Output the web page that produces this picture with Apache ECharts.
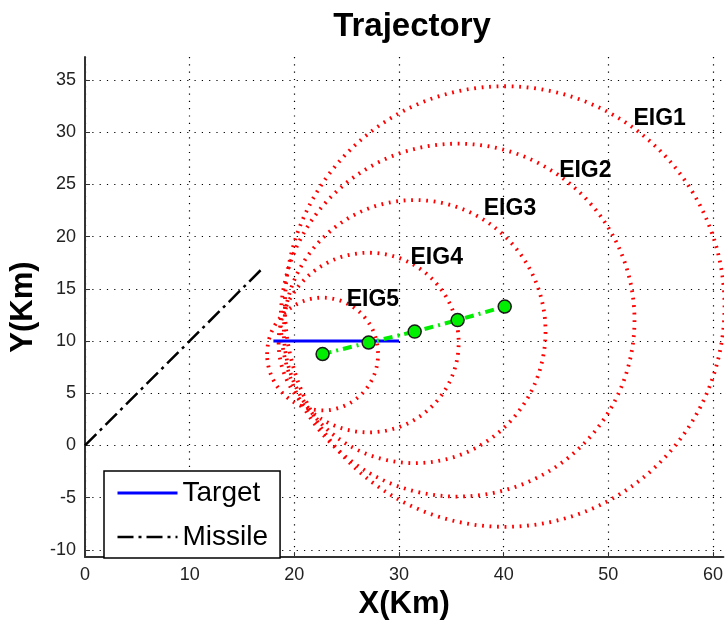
<!DOCTYPE html>
<html>
<head>
<meta charset="utf-8">
<script src="https://cdn.jsdelivr.net/npm/echarts@6/dist/echarts.min.js"></script>
<style>
html,body{margin:0;padding:0;background:#fff;}
#chart{width:726px;height:625px;}
</style>
</head>
<body>
<div id="chart"></div>
<script>
// ---- data ----
const xTicks = [0, 10, 20, 30, 40, 50, 60];
const yTicks = [-10, -5, 0, 5, 10, 15, 20, 25, 30, 35];

const targetX = [18.0, 30.0];
const targetY = [10.0, 10.0];

const missileX = [0, 17.0];
const missileY = [0, 17.0];

const estX = [22.7, 27.1, 31.5, 35.6, 40.1];
const estY = [8.75, 9.85, 10.9, 12.0, 13.3];

const eigNames = ['EIG5', 'EIG4', 'EIG3', 'EIG2', 'EIG1'];
const eigRadiusX = [5.3, 8.6, 12.5, 16.9, 21.0];
const eigRadiusY = [5.4, 8.6, 12.6, 16.9, 21.1];
const eigLabelX = [25.0, 31.1, 38.1, 45.3, 52.4];
const eigLabelY = [14.0, 18.0, 22.7, 26.3, 31.3];

// ---- chart ----
const chart = echarts.init(document.getElementById('chart'), null, {renderer: 'canvas'});
const FONT = '"Liberation Sans", Arial, Helvetica, sans-serif';

const ellipseData = estX.map((x, i) => [x, estY[i], eigRadiusX[i], eigRadiusY[i]]);

const option = {
  animation: false,
  backgroundColor: '#fff',
  textStyle: {fontFamily: FONT},
  title: {
    text: 'Trajectory',
    left: 407,
    top: 5,
    textAlign: 'center',
    textStyle: {fontFamily: FONT, fontSize: 33, fontWeight: 'bold', color: '#000'}
  },
  grid: {left: 85, right: 0, top: 57, bottom: 62, containLabel: false},
  legend: {
    data: ['Target', 'Missile'],
    orient: 'vertical',
    left: 104,
    top: 471,
    padding: [8, 12, 7, 12],
    itemGap: 16,
    itemWidth: 60,
    itemHeight: 26,
    borderColor: '#000',
    borderWidth: 1.5,
    backgroundColor: '#fff',
    itemStyle: {opacity: 0},
    lineStyle: {width: 'inherit', type: 'inherit', color: 'inherit'},
    textStyle: {fontFamily: FONT, fontSize: 28, color: '#000'}
  },
  xAxis: {
    type: 'value',
    min: 0,
    max: 61,
    name: 'X(Km)',
    nameLocation: 'middle',
    nameGap: 29,
    nameTextStyle: {fontFamily: FONT, fontSize: 31, fontWeight: 'bold', color: '#000'},
    axisLine: {show: true, onZero: false, lineStyle: {color: '#333', width: 2}},
    axisTick: {show: true, inside: true, length: 5, customValues: xTicks, lineStyle: {color: '#333', width: 1}},
    axisLabel: {customValues: xTicks, fontFamily: FONT, fontSize: 18, color: '#222', margin: 9},
    splitLine: {show: true, lineStyle: {color: '#000', width: 1.2, type: [1.2, 6.1]}}
  },
  yAxis: {
    type: 'value',
    min: -10.7,
    max: 37.2,
    name: 'Y(Km)',
    nameLocation: 'middle',
    nameGap: 44,
    nameTextStyle: {fontFamily: FONT, fontSize: 31, fontWeight: 'bold', color: '#000'},
    axisLine: {show: true, onZero: false, lineStyle: {color: '#333', width: 2}},
    axisTick: {show: true, inside: true, length: 5, customValues: yTicks, lineStyle: {color: '#333', width: 1}},
    axisLabel: {customValues: yTicks, fontFamily: FONT, fontSize: 18, color: '#222', margin: 9},
    splitLine: {show: true, lineStyle: {color: '#000', width: 1.2, type: [1.2, 6.1]}}
  },
  series: [
    {
      name: 'EIG',
      type: 'custom',
      clip: true,
      z: 2,
      encode: {x: 0, y: 1},
      data: ellipseData,
      renderItem: function (params, api) {
        const c = api.coord([api.value(0), api.value(1)]);
        const s = api.size([api.value(2), api.value(3)]);
        return {
          type: 'ellipse',
          shape: {cx: c[0], cy: c[1], rx: s[0], ry: s[1]},
          style: {fill: null, stroke: '#ff0000', lineWidth: 3.8, lineDash: [1.8, 5.7], lineCap: 'butt'}
        };
      }
    },
    {
      name: 'Target',
      type: 'line',
      z: 3,
      symbol: 'none',
      data: targetX.map((x, i) => [x, targetY[i]]),
      lineStyle: {color: '#0000ff', width: 3, type: 'solid'},
      itemStyle: {color: '#0000ff'}
    },
    {
      name: 'Missile',
      type: 'line',
      z: 3,
      symbol: 'none',
      data: missileX.map((x, i) => [x, missileY[i]]),
      lineStyle: {color: '#000', width: 2.5, type: [16, 5, 3, 5]},
      itemStyle: {color: '#000'}
    },
    {
      name: 'Estimate',
      type: 'line',
      z: 4,
      symbol: 'circle',
      symbolSize: 13,
      data: estX.map((x, i) => [x, estY[i]]),
      lineStyle: {color: '#00ee00', width: 4, type: [9, 5, 2, 5]},
      itemStyle: {color: '#00ee00', borderColor: '#1a1a1a', borderWidth: 1.5}
    },
    {
      name: 'EIG labels',
      type: 'scatter',
      z: 5,
      symbolSize: 0,
      itemStyle: {opacity: 1},
      data: eigLabelX.map((x, i) => [x, eigLabelY[i], eigNames[i]]),
      label: {
        show: true,
        position: 'right',
        distance: 0,
        formatter: p => p.value[2],
        fontFamily: FONT,
        fontSize: 23,
        fontWeight: 'bold',
        color: '#000',
        opacity: 1
      }
    }
  ]
};
chart.setOption(option);
</script>
</body>
</html>
